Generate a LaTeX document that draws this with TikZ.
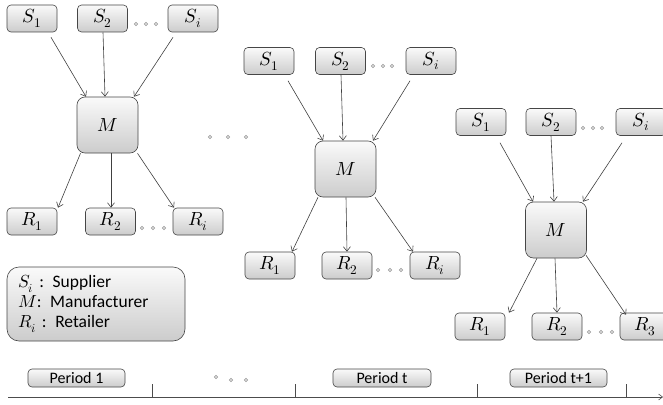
\documentclass[tikz,border=0pt]{standalone}
\usepackage{fontspec}
\usepackage{unicode-math}
\setmainfont{Carlito}
\setmathfont{Latin Modern Math}
\usetikzlibrary{arrows.meta,calc}
\tikzset{
  box/.style={draw=gray!55!black, line width=0.6pt, rounded corners=4pt,
    top color=gray!4, bottom color=gray!40, inner sep=0pt,
    minimum width=50pt, minimum height=27pt, font=\fontsize{19}{22}\selectfont},
  mbox/.style={box, rounded corners=8pt, minimum width=61pt, minimum height=56pt},
  pbox/.style={box, minimum height=18pt, font=\fontsize{16}{18}\selectfont},
  legendbox/.style={box, rounded corners=12pt, minimum width=178pt, minimum height=74pt,
    align=left, text width=156pt, font=\fontsize{17.5}{20}\selectfont},
  arr/.style={draw=black!75, line width=0.6pt, -{Straight Barb[length=4.5pt,width=7pt]}},
  dot/.style={draw=gray!80, line width=0.7pt},
}
\newcommand{\threedots}[4]{%
  \foreach \xx in {#1,#2,#3} \draw[dot] (\xx,#4) circle (1.7pt);}
\begin{document}
\begin{tikzpicture}[x=1pt,y=-1pt]
\useasboundingbox (0,0) rectangle (663,404);

% ---------- group 1 ----------
\node[box] (aS1) at (32,18.5) {$S_1$};
\node[box] (aS2) at (102.5,18.5) {$S_2$};
\node[box] (aSi) at (193,18.5) {$S_i$};
\node[mbox] (aM) at (107.5,125) {$M$};
\node[box] (aR1) at (32,221.5) {$R_1$};
\node[box] (aR2) at (110.5,221.5) {$R_2$};
\node[box] (aRi) at (198,221.5) {$R_i$};
\threedots{136}{146}{156}{24}
\threedots{142}{153}{164}{228}
\draw[arr] ($(aS1.south)+(19,5)$) -- ($(aM.north)+(-21.5,0)$);
\draw[arr] ($(aS2.south)+(0.5,0)$) -- ($(aM.north)+(-2.5,0)$);
\draw[arr] ($(aSi.south)+(-20,5)$) -- ($(aM.north)+(26.5,0)$);
\draw[arr] ($(aM.south)+(-27,0)$) -- ($(aR1.north)+(26,0)$);
\draw[arr] ($(aM.south)+(3.5,0)$) -- ($(aR2.north)+(0.5,0)$);
\draw[arr] ($(aM.south)+(30,0)$) -- ($(aRi.north)+(-24,0)$);

% middle dots
\threedots{210}{228}{246}{137}

% ---------- group 2 ----------
\node[box] (bS1) at (269,61) {$S_1$};
\node[box] (bS2) at (340.5,61) {$S_2$};
\node[box] (bSi) at (431,61) {$S_i$};
\node[mbox] (bM) at (345.5,169) {$M$};
\node[box] (bR1) at (270,265.5) {$R_1$};
\node[box] (bR2) at (347,265.5) {$R_2$};
\node[box] (bRi) at (435,265.5) {$R_i$};
\threedots{373}{383}{392}{66}
\threedots{378}{390}{401}{270}
\draw[arr] ($(bS1.south)+(19,6)$) -- ($(bM.north)+(-22.5,0)$);
\draw[arr] ($(bS2.south)+(0.5,0)$) -- ($(bM.north)+(-2.5,0)$);
\draw[arr] ($(bSi.south)+(-21,6)$) -- ($(bM.north)+(27.5,0)$);
\draw[arr] ($(bM.south)+(-27.5,0)$) -- ($(bR1.north)+(22,0)$);
\draw[arr] ($(bM.south)+(0.5,0)$) -- ($(bR2.north)+(0,0)$);
\draw[arr] ($(bM.south)+(29.5,0)$) -- ($(bRi.north)+(-22,0)$);

% ---------- group 3 ----------
\node[box] (cS1) at (481,122) {$S_1$};
\node[box] (cS2) at (551,122) {$S_2$};
\node[box] (cSi) at (641,122) {$S_i$};
\node[mbox] (cM) at (556,230) {$M$};
\node[box] (cR1) at (480,326.5) {$R_1$};
\node[box] (cR2) at (557,326.5) {$R_2$};
\node[box] (cR3) at (645,326.5) {$R_3$};
\threedots{583}{593}{602}{128}
\threedots{589}{601}{612}{332}
\draw[arr] ($(cS1.south)+(19,7)$) -- ($(cM.north)+(-23,0)$);
\draw[arr] ($(cS2.south)+(0,0)$) -- ($(cM.north)+(-2,0)$);
\draw[arr] ($(cSi.south)+(-19,7)$) -- ($(cM.north)+(27,0)$);
\draw[arr] ($(cM.south)+(-19,0)$) -- ($(cR1.north)+(29,0)$);
\draw[arr] ($(cM.south)+(-1,0)$) -- ($(cR2.north)+(0,0)$);
\draw[arr] ($(cM.south)+(30,-3)$) -- ($(cR3.north)+(-19,2)$);

% ---------- legend ----------
\node[legendbox] (legend) at (96,304) {$S_i$\ : Supplier\\ $M$: Manufacturer\\ $R_i$\ : Retailer};

% ---------- timeline ----------
\coordinate (tl0) at (8,397);
\coordinate (tl1) at (663,397);
\draw[draw=black!70, line width=0.6pt, -{Straight Barb[length=4pt,width=6pt]}] (tl0) -- (tl1);
\foreach \tx in {152,295,477,626}
  \draw[draw=black!70, line width=0.6pt] (\tx,384) -- (\tx,397);
\node[pbox, minimum width=97pt] (p1) at (76.5,378) {Period 1};
\node[pbox, minimum width=98pt] (pt) at (382,378) {Period t};
\node[pbox, minimum width=97pt] (pt1) at (558.5,378) {Period t+1};
\draw[dot] (216,377) circle (1.7pt);
\draw[dot] (231,380) circle (1.7pt);
\draw[dot] (246,380) circle (1.7pt);
\end{tikzpicture}
\end{document}
